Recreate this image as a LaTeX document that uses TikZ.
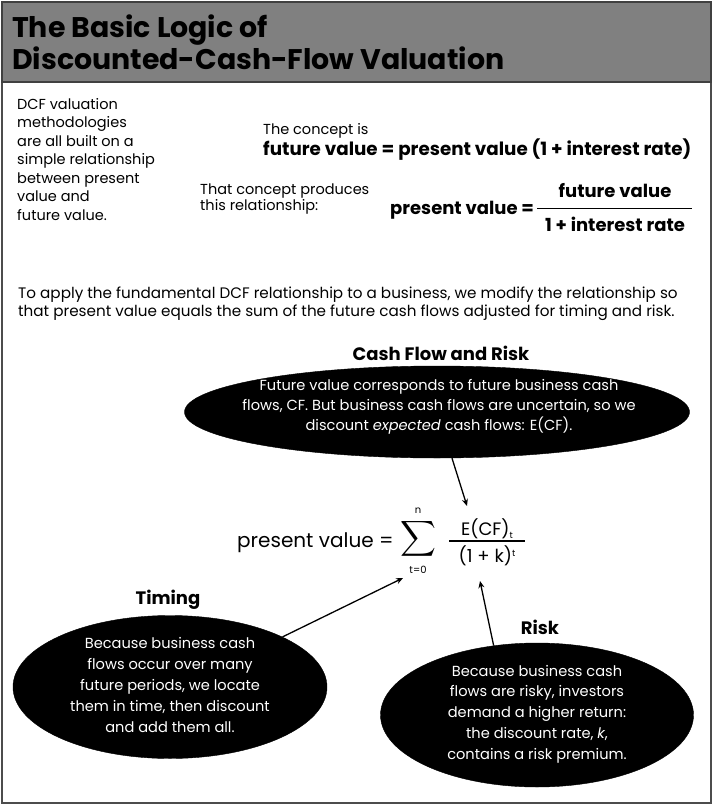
\documentclass[tikz,border=0pt]{standalone}
\usepackage{amsmath}
\usepackage{fontspec}
\setmainfont{Poppins}
\usetikzlibrary{shapes.geometric,arrows.meta}
\begin{document}
\begin{tikzpicture}[x=1pt,y=-1pt,
  body/.style={font=\fontsize{14.5}{18.5}\selectfont, inner sep=0pt, align=left},
  boldline/.style={font=\bfseries\fontsize{18}{20}\selectfont, inner sep=0pt},
  heading/.style={font=\bfseries\fontsize{18}{20}\selectfont, inner sep=0pt},
  blob/.style={ellipse, fill=black, draw=black, inner sep=0pt},
  blobtext/.style={text=white, inner sep=0pt, align=center, font=\fontsize{14.6}{20.8}\selectfont},
  pointer/.style={line width=1.3pt, -{Stealth[length=7pt,width=6pt]}},
]
\useasboundingbox (0,0) rectangle (713,805);

% frame and title band
\draw[line width=2pt, draw=black!70] (2,2) rectangle (711,803);
\draw[line width=2pt, draw=black!75, fill=black!50] (2,2) rectangle (711,82);
\node[anchor=north west, align=left, inner sep=0pt,
      font=\bfseries\fontsize{28.4}{32}\selectfont] (title) at (12,15)
  {The Basic Logic of\\Discounted-Cash-Flow Valuation};

% opening statement
\node[body, anchor=north west] (intro) at (17,98)
  {DCF valuation\\methodologies\\are all built on a\\simple relationship\\between present\\value and\\future value.};
\node[body, anchor=base west] (concept) at (263,135) {The concept is};
\node[boldline, anchor=base west, font=\bfseries\fontsize{18.3}{20}\selectfont] (growth) at (263,156)
  {future value = present value (1 + interest rate)};
\node[body, anchor=north west, font=\fontsize{14.5}{16}\selectfont] (produces) at (200,184)
  {That concept produces\\this relationship:};
\node[boldline, anchor=base west] (pvrel) at (390,214) {present value =};
\node[boldline, anchor=base] (fvnum) at (615,197) {future value};
\node[boldline, anchor=base] (fvden) at (615,231) {1 + interest rate};
\draw[line width=1.6pt] (537,208.5) -- (692,208.5);

% bridge to the business setting
\node[body, anchor=north west, font=\fontsize{15.2}{18}\selectfont] (para) at (18,287)
  {To apply the fundamental DCF relationship to a business, we modify the relationship so\\
   that present value equals the sum of the future cash flows adjusted for timing and risk.};

% cash flow and risk
\node[heading] (cfhead) at (441,353) {Cash Flow and Risk};
\node[blob, minimum width=505pt, minimum height=92pt] (cfblob) at (437,412) {};
\node[blobtext, font=\fontsize{14.6}{20}\selectfont] (cftext) at (439,407)
  {Future value corresponds to future business cash\\
   flows, CF. But business cash flows are uncertain, so we\\
   discount \emph{expected} cash flows: E(CF).};

% valuation formula
\node[anchor=base west, inner sep=0pt, font=\fontsize{20}{24}\selectfont] (pvsum) at (237,547)
  {present value =};
\node[inner sep=0pt, font=\fontsize{30}{30}\selectfont] (sigma) at (418,541)
  {$\displaystyle\sum_{\mbox{\fontsize{10}{10}\selectfont t=0}}^{\mbox{\fontsize{10}{10}\selectfont n}}$};
\node[inner sep=0pt, anchor=base, font=\fontsize{18}{20}\selectfont] (numer) at (487,535)
  {E(CF)\raisebox{-3pt}{\fontsize{9}{9}\selectfont t}};
\node[inner sep=0pt, anchor=base, font=\fontsize{18}{20}\selectfont] (denom) at (487,562)
  {(1 + k)\raisebox{6pt}{\fontsize{9}{9}\selectfont t}};
\draw[line width=1.1pt] (449,541) -- (525,541);

% timing
\node[heading] (timehead) at (168,600) {Timing};
\node[blob, minimum width=314pt, minimum height=143pt] (timeblob) at (170,687) {};
\node[blobtext] (timetext) at (170,685)
  {Because business cash\\flows occur over many\\future periods, we locate\\them in time, then discount\\and add them all.};

% risk
\node[heading] (riskhead) at (540,627) {Risk};
\node[blob, minimum width=313pt, minimum height=144pt] (riskblob) at (537,715) {};
\node[blobtext] (risktext) at (537,714)
  {Because business cash\\flows are risky, investors\\demand a higher return:\\the discount rate, \emph{k},\\contains a risk premium.};

% pointers into the formula
\coordinate (cftip) at (467,506);
\coordinate (timetip) at (403,578);
\coordinate (risktip) at (480,581);
\draw[pointer] (cfblob.-72) -- (cftip);
\draw[pointer] (timeblob.24) -- (timetip);
\draw[pointer] (riskblob.122) -- (risktip);
\end{tikzpicture}
\end{document}
